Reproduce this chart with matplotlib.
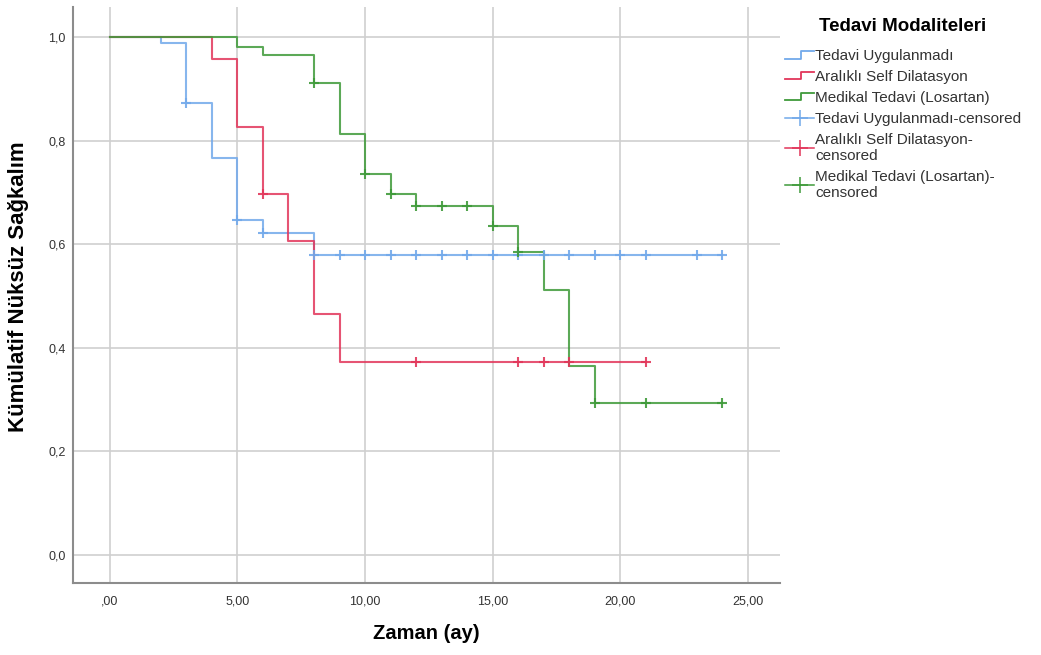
import numpy as np
import matplotlib.pyplot as plt
from matplotlib.lines import Line2D
from matplotlib.legend_handler import HandlerBase

plt.rcParams["font.family"] = ["Liberation Sans", "DejaVu Sans"]

# Kaplan-Meier step data (event times and survival after each step)
blue_t = [0, 2, 3, 4, 5, 6, 8]
blue_s = [1.0, 0.988, 0.873, 0.766, 0.647, 0.622, 0.579]
blue_end = 24
blue_cens = [3, 5, 6, 8, 9, 10, 11, 12, 13, 14, 15, 16, 17, 18, 19, 20, 21, 23, 24]

red_t = [0, 4, 5, 6, 7, 8, 9]
red_s = [1.0, 0.957, 0.826, 0.697, 0.606, 0.465, 0.373]
red_end = 21
red_cens = [6, 12, 16, 17, 18, 21]

green_t = [0, 5, 6, 8, 9, 10, 11, 12, 15, 16, 17, 18, 19]
green_s = [1.0, 0.982, 0.965, 0.911, 0.813, 0.735, 0.697, 0.674, 0.635,
           0.585, 0.512, 0.365, 0.293]
green_end = 24
green_cens = [8, 10, 11, 12, 13, 14, 15, 16, 19, 21, 24]

names = ["Tedavi Uygulanmadı", "Aralıklı Self Dilatasyon", "Medikal Tedavi (Losartan)"]
cens_names = ["Tedavi Uygulanmadı-censored", "Aralıklı Self Dilatasyon-\ncensored",
              "Medikal Tedavi (Losartan)-\ncensored"]
colors = ["#72a9ea", "#e2365a", "#3f9a3a"]

xticks = [0, 5, 10, 15, 20, 25]
xlabels = [",00", "5,00", "10,00", "15,00", "20,00", "25,00"]
yticks = [0.0, 0.2, 0.4, 0.6, 0.8, 1.0]
ylabels = ["0,0", "0,2", "0,4", "0,6", "0,8", "1,0"]


class HandlerStep(HandlerBase):
    def create_artists(self, legend, orig_handle, xdescent, ydescent,
                       width, height, fontsize, trans):
        x0, y0 = -xdescent, -ydescent
        xs = [x0, x0 + 0.55 * width, x0 + 0.55 * width, x0 + width]
        ys = [y0 + 0.15 * height, y0 + 0.15 * height, y0 + 0.85 * height, y0 + 0.85 * height]
        ln = Line2D(xs, ys, color=orig_handle.get_color(), lw=1.3)
        ln.set_transform(trans)
        return [ln]


fig = plt.figure(figsize=(10.41, 6.55), dpi=100)
ax = fig.add_axes([0.070, 0.110, 0.679, 0.879])

series = [(blue_t, blue_s, blue_end, blue_cens),
          (red_t, red_s, red_end, red_cens),
          (green_t, green_s, green_end, green_cens)]

step_handles = []
cens_handles = []
for (t, s, end, cens), c in zip(series, colors):
    tt = np.array(t + [end])
    ss = np.array(s + [s[-1]])
    ax.step(tt, ss, where="post", color=c, lw=1.5, alpha=0.85, zorder=3)
    idx = np.searchsorted(np.array(t), np.array(cens), side="right") - 1
    ax.plot(cens, np.array(s)[idx], linestyle="none", marker="+",
            markersize=6.5, mew=1.5, color=c, alpha=0.9, zorder=4)
    step_handles.append(Line2D([], [], color=c))
    cens_handles.append(Line2D([], [], color=c, marker="+", markersize=11,
                               mew=1.1, lw=1.1))

ax.set_xlim(-1.45, 26.25)
ax.set_ylim(-0.054, 1.058)
ax.set_xticks(xticks)
ax.set_xticklabels(xlabels)
ax.set_yticks(yticks)
ax.set_yticklabels(ylabels)
ax.tick_params(length=0, labelsize=9, colors="#333333")
ax.tick_params(axis="x", pad=9)
ax.tick_params(axis="y", pad=5)
ax.grid(True, color="#cfcfcf", lw=1.2)
ax.set_axisbelow(True)
for sp in ["top", "right"]:
    ax.spines[sp].set_visible(False)
for sp in ["left", "bottom"]:
    ax.spines[sp].set_color("#8c8c8c")
    ax.spines[sp].set_linewidth(1.5)

ax.set_xlabel("Zaman (ay)", fontsize=14.5, fontweight="bold", labelpad=12)
ax.set_ylabel("Kümülatif Nüksüz Sağkalım", fontsize=16, fontweight="bold")
ax.yaxis.set_label_coords(-0.062, 0.515)

handles = step_handles + cens_handles
labels = names + cens_names
hmap = {h: HandlerStep() for h in step_handles}
leg = fig.legend(handles, labels, loc="upper left", bbox_to_anchor=(0.741, 0.993),
                 frameon=False, fontsize=11, title="Tedavi Modaliteleri",
                 title_fontproperties={"size": 13.5, "weight": "bold"},
                 handlelength=1.9, handletextpad=0.05, labelspacing=0.45,
                 handler_map=hmap)
leg._legend_box.sep = 10
for txt in leg.get_texts():
    txt.set_color("#333333")

fig.savefig("out.png", dpi=100)
